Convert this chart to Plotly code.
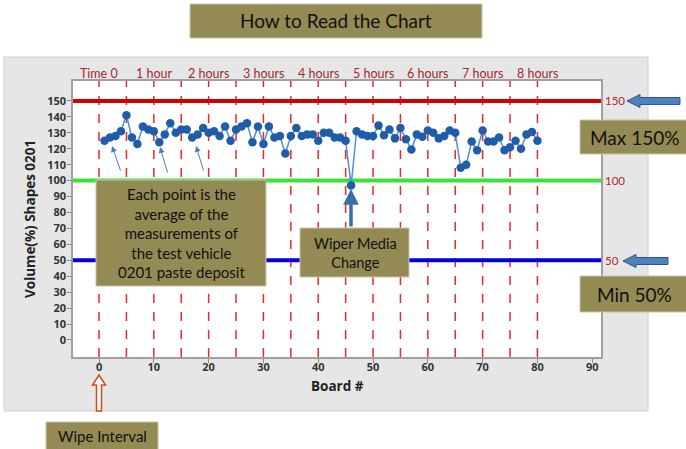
import plotly.graph_objects as go

# ---------------- data ----------------
boards = list(range(1, 81))
volume = [125, 127, 128, 131, 141, 127, 123, 134, 132, 131,
          124, 129, 136, 130, 132, 132, 127, 129, 133, 130,
          131, 128, 134, 125, 132, 134, 136, 124, 134, 123,
          134, 127, 128, 117, 128, 133, 128, 129, 129, 125,
          130, 130, 127, 127, 125, 97, 131, 129, 128, 128,
          134.5, 128.5, 132, 126.5, 133, 126, 119.5, 129, 127.5, 131.5,
          130, 126.5, 128, 131.5, 130, 108, 110, 124.5, 119, 131.5,
          124.5, 124.5, 127, 119, 121, 125, 120, 129, 130.5, 125]

wipe_boards = list(range(0, 85, 5))
hour_boards = list(range(0, 90, 10))
hour_labels = ["Time 0", "1 hour", "2 hours", "3 hours", "4 hours",
               "5 hours", "6 hours", "7 hours", "8 hours"]
limit_values = [150, 100, 50]
limit_labels = ["150", "100", "50"]
limit_colors = ["#D40000", "#3EE03E", "#0000E0"]
y_ticks = list(range(0, 160, 10))
x_ticks = list(range(0, 100, 10))

# ---------------- geometry helpers (pixel -> paper) ----------------
FW, FH = 686, 449
L, R, T, B = 73, 601, 81, 357
W, H = R - L, B - T


def px(x):
    return (x - L) / W


def py(y):
    return (B - y) / H


OLIVE = "#948A54"
TXT_FONT = "Lato"

fig = go.Figure()

fig.add_trace(go.Scatter(
    x=boards, y=volume, mode="lines+markers",
    line=dict(color="#4F8FD6", width=1.5),
    marker=dict(color="#1F5CAA", size=8.5),
    showlegend=False, hoverinfo="skip",
))

shapes = []
# gray panel + white plot area
shapes.append(dict(type="rect", xref="paper", yref="paper", layer="below",
                   x0=px(4), x1=px(648), y0=py(411), y1=py(57),
                   fillcolor="#E6E6E6", line=dict(color="#D0D0D0", width=1)))
shapes.append(dict(type="rect", xref="paper", yref="paper", layer="below",
                   x0=0, x1=1, y0=0, y1=1,
                   fillcolor="white", line=dict(width=0)))
# wipe interval dashed lines
for b in wipe_boards:
    shapes.append(dict(type="line", xref="x", yref="paper", layer="below",
                       x0=b, x1=b, y0=0, y1=1,
                       line=dict(color="#E8282A", width=1.5, dash="dash")))
# limit lines
for v, c in zip(limit_values, limit_colors):
    shapes.append(dict(type="line", xref="paper", yref="y", layer="below",
                       x0=0, x1=1, y0=v, y1=v,
                       line=dict(color=c, width=4)))


def box(x0, y0, x1, y1):
    shapes.append(dict(type="rect", xref="paper", yref="paper", layer="above",
                       x0=px(x0), x1=px(x1), y0=py(y1), y1=py(y0),
                       fillcolor=OLIVE, line=dict(color="#C9C4A8", width=1)))


box(190, 4, 482, 38)
box(96, 180, 266, 286)
box(300, 228, 409, 277)
box(580, 120, 690, 154)
box(580, 276, 690, 312)
box(46, 422, 158, 452)


def path(points):
    s = "M " + " L ".join(f"{px(a):.5f},{py(b):.5f}" for a, b in points) + " Z"
    return s


# left-pointing block arrows
for tipx, endx, yc in [(627, 680, 101), (623, 668, 261)]:
    pts = [(tipx, yc), (tipx + 13, yc - 6.5), (tipx + 13, yc - 3.5), (endx, yc - 3.5),
           (endx, yc + 3.5), (tipx + 13, yc + 3.5), (tipx + 13, yc + 6.5)]
    shapes.append(dict(type="path", xref="paper", yref="paper", layer="above",
                       path=path(pts), fillcolor="#4F81BD",
                       line=dict(color="#2F528F", width=1)))

# hollow red up arrow
ax0, tip_y = 99, 375
pts = [(ax0, tip_y), (ax0 + 6.5, tip_y + 10), (ax0 + 2.5, tip_y + 10), (ax0 + 2.5, 411),
       (ax0 - 2.5, 411), (ax0 - 2.5, tip_y + 10), (ax0 - 6.5, tip_y + 10)]
shapes.append(dict(type="path", xref="paper", yref="paper", layer="above",
                   path=path(pts), fillcolor="white",
                   line=dict(color="#D8461B", width=1.5)))

annotations = []
# hour labels
for b, t in zip(hour_boards, hour_labels):
    annotations.append(dict(x=b, y=py(73), xref="x", yref="paper", text=t,
                            showarrow=False, xanchor="center", yanchor="middle",
                            font=dict(family=TXT_FONT, size=12.5, color="#A3282C")))
# right-hand limit labels
for v, t in zip(limit_values, limit_labels):
    annotations.append(dict(x=px(603), y=v, xref="paper", yref="y", text=t,
                            showarrow=False, xanchor="left", yanchor="middle",
                            font=dict(family=TXT_FONT, size=11.5, color="#B02A2E")))


def label(text, cx, cy, size):
    annotations.append(dict(x=px(cx), y=py(cy), xref="paper", yref="paper", text=text,
                            showarrow=False, xanchor="center", yanchor="middle",
                            font=dict(family=TXT_FONT, size=size, color="#111111")))


label("How to Read the Chart", 336, 21, 19)
label("Each point is the<br>average of the<br>measurements of<br>the test vehicle<br>0201 paste deposit",
      181, 233, 15)
label("Wiper Media<br>Change", 355, 253, 14.5)
label("Max 150%", 634, 137, 19)
label("Min 50%", 634, 294, 19)
label("Wipe Interval", 102, 436, 15)

# axis titles
annotations.append(dict(x=px(30), y=py(219), xref="paper", yref="paper",
                        text="Volume(%) Shapes 0201", textangle=-90, showarrow=False,
                        xanchor="center", yanchor="middle",
                        font=dict(family="Open Sans", size=13.5, color="#222222", weight="bold")))
annotations.append(dict(x=0.5, y=py(386), xref="paper", yref="paper",
                        text="Board #", showarrow=False, xanchor="center", yanchor="middle",
                        font=dict(family="Open Sans", size=13.5, color="#222222", weight="bold")))

# thin pointer arrows
for hx, hy, tx, ty in [(112, 146, 121, 172), (160, 147, 168, 174), (196, 146, 204, 172)]:
    annotations.append(dict(x=px(hx), y=py(hy), xref="paper", yref="paper", text="",
                            showarrow=True, ax=tx - hx, ay=ty - hy,
                            arrowhead=2, arrowsize=1.2, arrowwidth=1,
                            arrowcolor="#4A7EBB"))
# wiper arrow
annotations.append(dict(x=px(351), y=py(189), xref="paper", yref="paper", text="",
                        showarrow=True, ax=0, ay=39, arrowhead=2, arrowsize=0.9,
                        arrowwidth=3.5, arrowcolor="#3C6CA6"))

tick_font = dict(family="Open Sans", size=11, color="#333333", weight="bold")

fig.update_layout(
    width=FW, height=FH,
    margin=dict(l=L, r=FW - R, t=T, b=FH - B, pad=0),
    paper_bgcolor="white", plot_bgcolor="rgba(0,0,0,0)",
    shapes=shapes, annotations=annotations, showlegend=False,
    xaxis=dict(range=[-4.75, 91.6], tickvals=x_ticks, showgrid=False, zeroline=False,
               ticks="outside", ticklen=4, tickcolor="#888888", tickfont=tick_font,
               ticklabelstandoff=-5,
               showline=True, linecolor="#A0A0A0", linewidth=1.5, mirror=True),
    yaxis=dict(range=[-10.7, 162.5], tickvals=y_ticks, showgrid=False, zeroline=False,
               ticks="outside", ticklen=4, tickcolor="#888888", tickfont=tick_font,
               ticklabelstandoff=-1,
               showline=True, linecolor="#A0A0A0", linewidth=1.5, mirror=True),
)

fig.write_html("out.html", config={"displayModeBar": False},
               post_script="document.body.style.margin='0';document.body.style.overflow='hidden';")
